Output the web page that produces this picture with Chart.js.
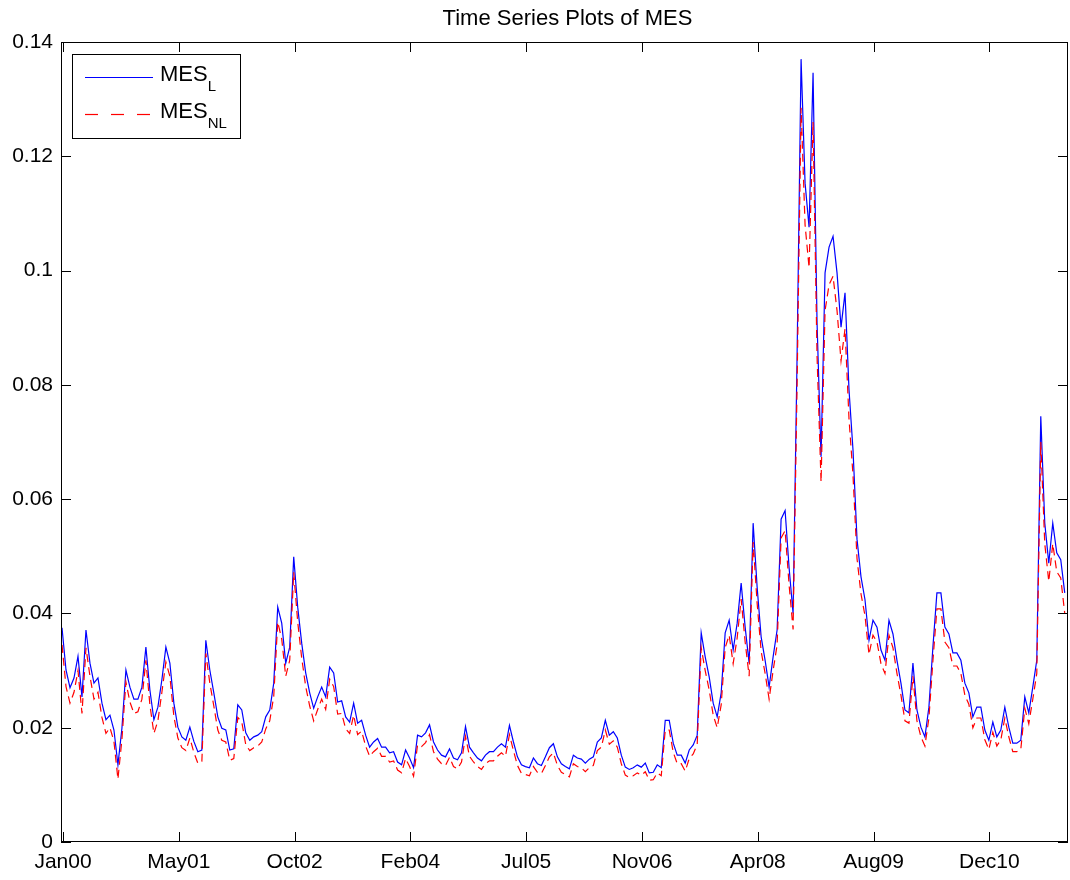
<!DOCTYPE html>
<html>
<head>
<meta charset="utf-8">
<title>Time Series Plots of MES</title>
<script src="https://cdn.jsdelivr.net/npm/chart.js@4.4.1/dist/chart.umd.min.js"></script>
<style>
    body { margin: 0; background: #fff; }
    canvas { display: block; }
</style>
</head>
<body>
<canvas id="myChart" width="1070" height="880"></canvas>
<script>

// labels of the date axis, one per tick
const xTickLabels = ['Jan00', 'May01', 'Oct02', 'Feb04', 'Jul05', 'Nov06', 'Apr08', 'Aug09', 'Dec10'];
const yTickValues = [0, 0.02, 0.04, 0.06, 0.08, 0.1, 0.12, 0.14];
const yTickLabels = ['0', '0.02', '0.04', '0.06', '0.08', '0.1', '0.12', '0.14'];

// legend names, the part after "_" is written as subscript
const seriesLabels = ['MES_L', 'MES_NL'];

// position of the first sample and the spacing between samples (in date-tick units)
const xStart = -0.0086;
const xStep = 0.0345;

// MES with the linear model
const mesL = [
    0.0375,0.0301,0.0270,0.0287,0.0325,0.0254,0.0371,0.0313,0.0278,0.0287,
    0.0243,0.0214,0.0222,0.0196,0.0135,0.0199,0.0301,0.0271,0.0250,0.0250,
    0.0271,0.0341,0.0266,0.0214,0.0236,0.0284,0.0341,0.0313,0.0243,0.0201,
    0.0184,0.0178,0.0201,0.0176,0.0158,0.0161,0.0353,0.0301,0.0261,0.0219,
    0.0199,0.0196,0.0161,0.0163,0.0240,0.0231,0.0191,0.0178,0.0184,0.0187,
    0.0193,0.0219,0.0231,0.0278,0.0411,0.0383,0.0313,0.0341,0.0499,0.0411,
    0.0348,0.0296,0.0261,0.0234,0.0254,0.0271,0.0254,0.0306,0.0296,0.0245,
    0.0247,0.0219,0.0210,0.0243,0.0208,0.0213,0.0187,0.0166,0.0175,0.0181,
    0.0166,0.0166,0.0156,0.0158,0.0140,0.0135,0.0161,0.0147,0.0130,0.0187,
    0.0184,0.0191,0.0205,0.0175,0.0161,0.0152,0.0149,0.0163,0.0147,0.0144,
    0.0156,0.0202,0.0166,0.0156,0.0147,0.0142,0.0152,0.0158,0.0158,0.0166,
    0.0172,0.0166,0.0204,0.0175,0.0149,0.0135,0.0132,0.0130,0.0147,0.0137,
    0.0134,0.0149,0.0165,0.0172,0.0149,0.0137,0.0132,0.0128,0.0152,0.0147,
    0.0145,0.0138,0.0145,0.0149,0.0175,0.0182,0.0213,0.0187,0.0193,0.0182,
    0.0152,0.0131,0.0127,0.0130,0.0135,0.0131,0.0138,0.0121,0.0122,0.0135,
    0.0130,0.0213,0.0213,0.0173,0.0152,0.0152,0.0138,0.0161,0.0170,0.0187,
    0.0366,0.0324,0.0289,0.0243,0.0219,0.0261,0.0366,0.0388,0.0336,0.0383,
    0.0453,0.0376,0.0313,0.0558,0.0446,0.0359,0.0318,0.0271,0.0324,0.0371,
    0.0565,0.0580,0.0480,0.0400,0.0850,0.1370,0.1153,0.1076,0.1346,0.0908,
    0.0674,0.0996,0.1041,0.1060,0.0996,0.0901,0.0961,0.0791,0.0686,0.0530,
    0.0464,0.0424,0.0353,0.0388,0.0376,0.0336,0.0318,0.0388,0.0364,0.0318,
    0.0278,0.0231,0.0226,0.0313,0.0231,0.0201,0.0184,0.0236,0.0341,0.0436,
    0.0436,0.0376,0.0364,0.0331,0.0331,0.0318,0.0278,0.0261,0.0219,0.0236,
    0.0236,0.0196,0.0178,0.0210,0.0184,0.0196,0.0236,0.0201,0.0173,0.0173,
    0.0178,0.0254,0.0226,0.0271,0.0318,0.0745,0.0558,0.0488,0.0558,0.0506,
    0.0494,0.0436
];

// MES with the non linear model
const mesNL = [
    0.0345,0.0272,0.0243,0.0262,0.0300,0.0225,0.0340,0.0290,0.0250,0.0262,
    0.0218,0.0190,0.0200,0.0176,0.0110,0.0180,0.0280,0.0245,0.0225,0.0228,
    0.0250,0.0318,0.0240,0.0190,0.0212,0.0262,0.0315,0.0290,0.0220,0.0182,
    0.0165,0.0160,0.0182,0.0157,0.0138,0.0140,0.0330,0.0278,0.0238,0.0196,
    0.0178,0.0175,0.0143,0.0146,0.0218,0.0210,0.0170,0.0160,0.0165,0.0168,
    0.0175,0.0198,0.0212,0.0255,0.0385,0.0355,0.0290,0.0318,0.0472,0.0385,
    0.0322,0.0272,0.0238,0.0212,0.0232,0.0250,0.0232,0.0285,0.0272,0.0224,
    0.0225,0.0198,0.0190,0.0222,0.0188,0.0194,0.0168,0.0150,0.0158,0.0164,
    0.0150,0.0150,0.0140,0.0142,0.0126,0.0121,0.0146,0.0132,0.0115,0.0170,
    0.0167,0.0174,0.0188,0.0158,0.0145,0.0137,0.0134,0.0148,0.0132,0.0128,
    0.0140,0.0185,0.0150,0.0140,0.0132,0.0127,0.0137,0.0142,0.0142,0.0150,
    0.0156,0.0150,0.0188,0.0160,0.0134,0.0120,0.0118,0.0116,0.0132,0.0122,
    0.0120,0.0134,0.0149,0.0156,0.0134,0.0122,0.0118,0.0114,0.0137,0.0132,
    0.0130,0.0123,0.0130,0.0134,0.0160,0.0166,0.0196,0.0171,0.0177,0.0166,
    0.0137,0.0117,0.0113,0.0116,0.0121,0.0117,0.0123,0.0108,0.0109,0.0121,
    0.0116,0.0196,0.0196,0.0157,0.0137,0.0137,0.0124,0.0146,0.0154,0.0171,
    0.0340,0.0300,0.0266,0.0222,0.0200,0.0240,0.0340,0.0362,0.0312,0.0357,
    0.0425,0.0350,0.0290,0.0525,0.0418,0.0334,0.0295,0.0250,0.0300,0.0345,
    0.0532,0.0545,0.0450,0.0372,0.0800,0.1285,0.1080,0.1005,0.1260,0.0850,
    0.0630,0.0930,0.0975,0.0990,0.0930,0.0842,0.0898,0.0740,0.0642,0.0496,
    0.0434,0.0396,0.0328,0.0362,0.0350,0.0312,0.0295,0.0362,0.0340,0.0295,
    0.0257,0.0212,0.0208,0.0290,0.0212,0.0184,0.0168,0.0217,0.0317,0.0408,
    0.0408,0.0350,0.0340,0.0308,0.0308,0.0295,0.0257,0.0241,0.0200,0.0217,
    0.0217,0.0179,0.0162,0.0192,0.0168,0.0179,0.0217,0.0184,0.0158,0.0158,
    0.0162,0.0234,0.0207,0.0250,0.0295,0.0700,0.0522,0.0456,0.0522,0.0473,
    0.0462,0.0400
];

const FONT = "'Liberation Sans', Arial, Helvetica, sans-serif";

function toPoints(values)
{
    return values.map((v, i) => ({x: xStart + i * xStep, y: v}));
}

// box, inside ticks (matlab style), title and legend with subscripts
const matlabFrame = {
    id: 'matlabFrame',
    afterDraw(chart) {
        const ctx = chart.ctx;
        const area = chart.chartArea;
        const xs = chart.scales.x;
        const ys = chart.scales.y;

        ctx.save();
        ctx.strokeStyle = '#000';
        ctx.lineWidth = 1;
        ctx.strokeRect(area.left + 0.5, area.top + 0.5, area.right - area.left - 1, area.bottom - area.top - 1);

        ctx.beginPath();
        xs.ticks.forEach(t => {
            const px = Math.round(xs.getPixelForValue(t.value)) + 0.5;
            ctx.moveTo(px, area.bottom);
            ctx.lineTo(px, area.bottom - 10);
            ctx.moveTo(px, area.top);
            ctx.lineTo(px, area.top + 10);
        });
        ys.ticks.forEach(t => {
            const py = Math.round(ys.getPixelForValue(t.value)) + 0.5;
            ctx.moveTo(area.left, py);
            ctx.lineTo(area.left + 10, py);
            ctx.moveTo(area.right, py);
            ctx.lineTo(area.right - 10, py);
        });
        ctx.stroke();

        // title
        ctx.fillStyle = '#000';
        ctx.font = '22px ' + FONT;
        ctx.textAlign = 'center';
        ctx.textBaseline = 'alphabetic';
        ctx.fillText('Time Series Plots of MES', (area.left + area.right) / 2 + 3, 25);

        // legend
        const bx = 72, by = 54, bw = 168, bh = 84;
        ctx.fillStyle = '#fff';
        ctx.fillRect(bx, by, bw, bh);
        ctx.strokeStyle = '#000';
        ctx.strokeRect(bx + 0.5, by + 0.5, bw, bh);

        const rows = [77, 114];
        chart.data.datasets.forEach((ds, i) => {
            const y = rows[i];
            ctx.strokeStyle = ds.borderColor;
            ctx.lineWidth = 1.2;
            ctx.setLineDash(i === 1 ? [13, 13] : []);
            ctx.beginPath();
            ctx.moveTo(85, y + 0.5);
            ctx.lineTo(153, y + 0.5);
            ctx.stroke();
            ctx.setLineDash([]);

            const parts = ds.label.split('_');
            ctx.fillStyle = '#000';
            ctx.textAlign = 'left';
            ctx.font = '22px ' + FONT;
            ctx.fillText(parts[0], 160, y + 4);
            const w = ctx.measureText(parts[0]).width;
            ctx.font = '15px ' + FONT;
            ctx.fillText(parts[1], 160 + w, y + 14);
        });
        ctx.restore();
    }
};

let myChart = null;

Chart.defaults.font.family = FONT;
Chart.defaults.color = '#000';

myChart = new Chart(document.getElementById('myChart'), {
    type: 'line',
    data: {
        datasets: [{
            label: seriesLabels[0],
            data: toPoints(mesL),
            borderColor: '#0000ff',
            borderWidth: 1.2,
            pointRadius: 0,
            fill: false,
            tension: 0,
            order: 1
        }, {
            label: seriesLabels[1],
            data: toPoints(mesNL),
            borderColor: '#ff0000',
            borderWidth: 1.2,
            borderDash: [8, 5],
            pointRadius: 0,
            fill: false,
            tension: 0,
            order: 0
        }]
    },
    options: {
        responsive: false,
        animation: false,
        layout: {
            padding: {top: 42, right: 2, left: 0, bottom: 0}
        },
        plugins: {
            legend: {display: false},
            title: {display: false},
            tooltip: {enabled: false}
        },
        scales: {
            x: {
                type: 'linear',
                min: -0.0173,
                max: 8.679,
                afterBuildTicks: (scale) => {
                    scale.ticks = xTickLabels.map((l, i) => ({value: i}));
                },
                afterFit: (scale) => { scale.height = 38; },
                ticks: {
                    callback: (v) => xTickLabels[v],
                    font: {size: 21},
                    padding: 8,
                    maxRotation: 0,
                    autoSkip: false
                },
                grid: {display: false, drawTicks: false},
                border: {display: false}
            },
            y: {
                min: 0,
                max: 0.14,
                afterBuildTicks: (scale) => {
                    scale.ticks = yTickValues.map(v => ({value: v}));
                },
                afterFit: (scale) => { scale.width = 61; },
                ticks: {
                    callback: (v, i) => yTickLabels[i],
                    font: {size: 21},
                    padding: 8
                },
                grid: {display: false, drawTicks: false},
                border: {display: false}
            }
        }
    },
    plugins: [matlabFrame]
});

</script>
</body>
</html>
